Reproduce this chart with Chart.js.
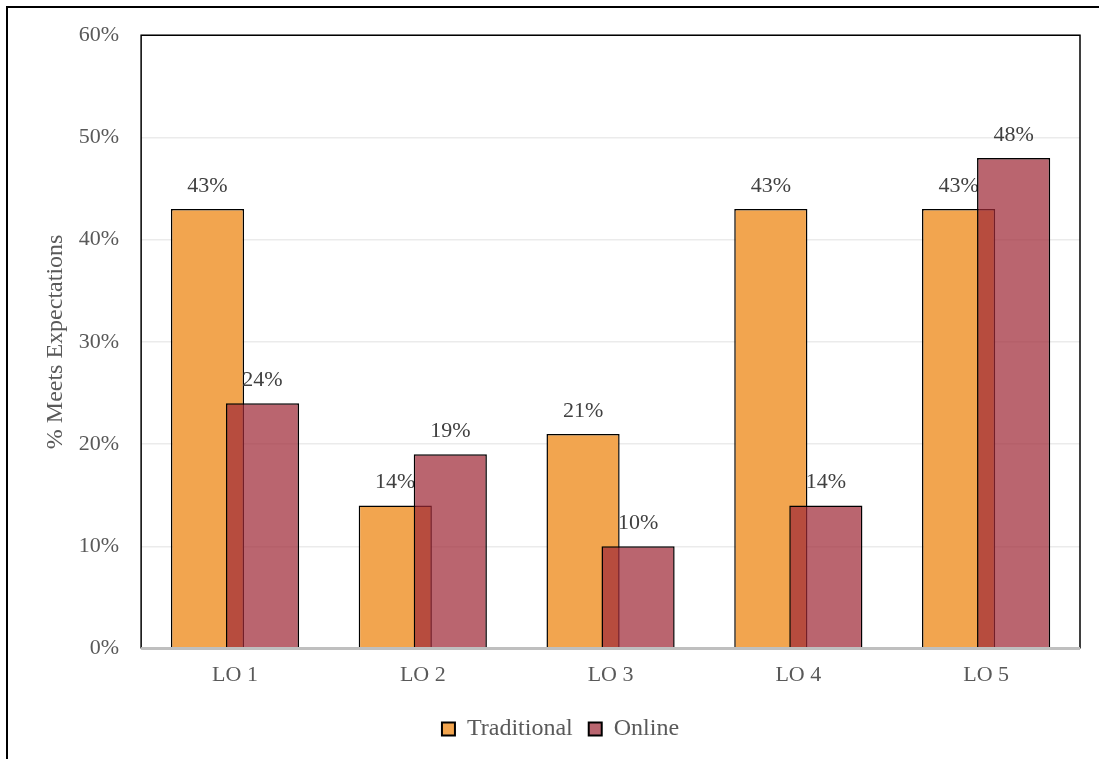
<!DOCTYPE html>
<html>
<head>
<meta charset="utf-8">
<script src="https://cdn.jsdelivr.net/npm/chart.js@4/dist/chart.umd.min.js"></script>
<style>
  html, body { margin: 0; padding: 0; background: #fff; }
  #wrap { width: 1099px; height: 759px; }
</style>
</head>
<body>
<div id="wrap"><canvas id="chart" width="1099" height="759"></canvas></div>
<script>
// Chart data
const categories = ['LO 1', 'LO 2', 'LO 3', 'LO 4', 'LO 5'];
const traditional = [43, 14, 21, 43, 43];
const online = [24, 19, 10, 14, 48];
const yTicks = [0, 10, 20, 30, 40, 50, 60];

const FONT = "'Liberation Serif', 'DejaVu Serif', serif";

// Value labels above one dataset's bars
function drawLabels(chart, index) {
    const ctx = chart.ctx;
    const meta = chart.getDatasetMeta(index);
    const values = chart.data.datasets[index].data;
    ctx.save();
    ctx.font = '22px ' + FONT;
    ctx.fillStyle = '#404040';
    ctx.textAlign = 'center';
    ctx.textBaseline = 'bottom';
    meta.data.forEach((bar, i) => {
        ctx.fillText(values[i] + '%', bar.x, bar.y - 12);
    });
    ctx.restore();
}

// Frame, plot box, and left-to-right drawing so the online bars sit on top
const framePlugin = {
    id: 'frame',
    beforeDraw(chart) {
        const ctx = chart.ctx;
        ctx.save();
        ctx.strokeStyle = '#000';
        ctx.lineWidth = 2;
        ctx.beginPath();
        ctx.moveTo(7, chart.height);
        ctx.lineTo(7, 7);
        ctx.lineTo(chart.width, 7);
        ctx.stroke();
        ctx.restore();
    },
    beforeDatasetsDraw(chart) {
        chart.data.datasets.forEach((ds, i) => {
            chart.getDatasetMeta(i).controller.draw();
            drawLabels(chart, i);
        });
        return false;
    },
    afterDraw(chart) {
        const a = chart.chartArea;
        const ctx = chart.ctx;
        ctx.save();
        ctx.strokeStyle = '#000';
        ctx.lineWidth = 1.5;
        ctx.beginPath();
        ctx.moveTo(a.left, a.bottom);
        ctx.lineTo(a.left, a.top);
        ctx.lineTo(a.right, a.top);
        ctx.lineTo(a.right, a.bottom);
        ctx.stroke();
        ctx.strokeStyle = '#BFBFBF';
        ctx.lineWidth = 3;
        ctx.beginPath();
        ctx.moveTo(a.left, a.bottom);
        ctx.lineTo(a.right, a.bottom);
        ctx.stroke();
        ctx.restore();
    }
};

new Chart(document.getElementById('chart').getContext('2d'), {
    type: 'bar',
    data: {
        labels: categories,
        datasets: [{
            label: 'Traditional',
            data: traditional,
            backgroundColor: '#F2A54F',
            borderColor: '#000',
            borderWidth: 1.5,
            categoryPercentage: 0.586,
            barPercentage: 1.33
        }, {
            label: 'Online',
            data: online,
            backgroundColor: 'rgba(159, 42, 56, 0.72)',
            borderColor: '#000',
            borderWidth: 1.5,
            categoryPercentage: 0.586,
            barPercentage: 1.33
        }]
    },
    options: {
        responsive: false,
        animation: false,
        layout: { padding: { top: 31, right: 19, bottom: 8, left: 41 } },
        plugins: {
            tooltip: { enabled: false },
            legend: {
                position: 'bottom',
                labels: {
                    font: { family: FONT, size: 24 },
                    color: '#595959',
                    boxWidth: 13,
                    boxHeight: 13,
                    padding: 16,
                    generateLabels(chart) {
                        return chart.data.datasets.map((ds, i) => ({
                            text: ds.label,
                            fillStyle: i === 0 ? '#F2A54F' : '#BA6670',
                            strokeStyle: '#000',
                            lineWidth: 2,
                            fontColor: '#595959',
                            datasetIndex: i
                        }));
                    }
                }
            }
        },
        scales: {
            x: {
                grid: { display: false },
                border: { display: false },
                afterFit(axis) {
                    axis.height += 8;
                },
                ticks: {
                    font: { family: FONT, size: 22 },
                    color: '#595959',
                    padding: 5
                }
            },
            y: {
                min: 0,
                max: 60,
                afterBuildTicks(axis) {
                    axis.ticks = yTicks.map(v => ({ value: v }));
                },
                grid: { color: '#EBEBEB', lineWidth: 1.5, drawTicks: false },
                border: { display: false },
                ticks: {
                    font: { family: FONT, size: 22 },
                    color: '#595959',
                    padding: 22,
                    callback: v => v + '%'
                },
                title: {
                    display: true,
                    text: '% Meets Expectations',
                    font: { family: FONT, size: 24 },
                    color: '#595959',
                    padding: { top: 0, bottom: -13 }
                }
            }
        }
    },
    plugins: [framePlugin]
});
</script>
</body>
</html>
